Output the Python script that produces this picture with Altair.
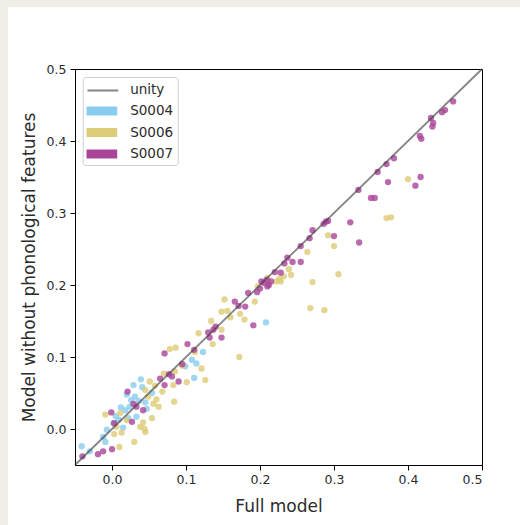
import altair as alt
import pandas as pd

# ---- data ----
s4_full = [-0.041, -0.030, -0.009, -0.012, -0.007, 0.015, 0.018, 0.033, 0.022, 0.045,
           0.031, 0.029, 0.039, 0.024, 0.036, 0.054, 0.111, 0.114, 0.123, 0.208,
           0.002, 0.009, 0.108, 0.099, 0.026, 0.012, 0.041, 0.020, 0.005, 0.047]
s4_nophon = [-0.024, -0.031, -0.018, -0.011, -0.001, 0.002, 0.026, 0.017, 0.015, 0.037,
             0.045, 0.061, 0.069, 0.031, 0.039, 0.050, 0.071, 0.091, 0.107, 0.148,
             0.008, 0.013, 0.096, 0.087, 0.040, 0.030, 0.058, 0.048, 0.018, 0.028]

s6_full = [0.400, 0.371, 0.377, 0.292, 0.300, 0.264, 0.242, 0.228, 0.271, 0.306,
           0.268, 0.287, 0.232, 0.222, 0.226, 0.197, 0.193, 0.152, 0.148, 0.156,
           0.173, 0.179, 0.172, 0.134, 0.148, 0.136, 0.117, 0.112, 0.078, 0.086,
           0.085, 0.101, 0.121, 0.126, 0.083, 0.084, 0.068, 0.051, 0.056, 0.054,
           0.042, 0.045, 0.044, 0.013, 0.003, 0.011, -0.009, 0.010, 0.030, 0.006,
           0.038, 0.063, 0.049, 0.060, 0.045, 0.239, 0.210, 0.160, 0.095, 0.020,
           0.070, 0.058]
s6_nophon = [0.347, 0.293, 0.294, 0.269, 0.254, 0.246, 0.214, 0.205, 0.204, 0.215,
             0.168, 0.165, 0.212, 0.205, 0.208, 0.198, 0.177, 0.180, 0.163, 0.164,
             0.160, 0.152, 0.100, 0.150, 0.138, 0.118, 0.133, 0.107, 0.111, 0.113,
             0.080, 0.065, 0.084, 0.068, 0.061, 0.038, 0.052, 0.066, 0.035, 0.015,
             0.009, -0.004, 0.000, -0.005, -0.007, 0.022, 0.020, -0.025, -0.018, 0.003,
             0.003, 0.031, 0.045, 0.041, 0.054, 0.222, 0.210, 0.155, 0.088, 0.012,
             0.077, 0.060]

s7_full = [0.461, 0.450, 0.446, 0.431, 0.434, 0.433, 0.416, 0.418, 0.381, 0.371,
           0.359, 0.417, 0.410, 0.373, 0.333, 0.350, 0.355, 0.322, 0.289, 0.292,
           0.286, 0.334, 0.271, 0.267, 0.300, 0.255, 0.237, 0.244, 0.255, 0.233,
           0.228, 0.215, 0.205, 0.210, 0.200, 0.196, 0.202, 0.209, 0.212, 0.184,
           0.191, 0.166, 0.171, 0.180, 0.130, 0.137, 0.148, 0.132, 0.102, 0.111,
           0.095, 0.071, 0.077, 0.065, 0.071, 0.090, 0.081, 0.021, 0.033, 0.029,
           0.042, 0.027, -0.001, 0.003, -0.040, -0.019, -0.012, 0.000, 0.140, 0.220]
s7_nophon = [0.455, 0.443, 0.440, 0.432, 0.425, 0.420, 0.407, 0.403, 0.376, 0.368,
             0.357, 0.350, 0.338, 0.343, 0.332, 0.321, 0.321, 0.287, 0.288, 0.289,
             0.285, 0.259, 0.276, 0.265, 0.268, 0.254, 0.238, 0.232, 0.232, 0.230,
             0.217, 0.205, 0.203, 0.198, 0.195, 0.190, 0.205, 0.207, 0.200, 0.189,
             0.144, 0.177, 0.171, 0.170, 0.134, 0.138, 0.127, 0.127, 0.118, 0.110,
             0.090, 0.105, 0.076, 0.070, 0.061, 0.066, 0.073, 0.052, 0.031, 0.035,
             0.026, 0.010, 0.023, 0.008, -0.038, -0.035, -0.031, -0.028, 0.142, 0.218]

legend_domain = ["unity", "S0004", "S0006", "S0007"]
legend_colors = ["transparent", "#88CCEE", "#DDCC77", "#AA4499"]
ticks = [0.0, 0.1, 0.2, 0.3, 0.4, 0.5]
axis_range = [-0.05, 0.5]
unity_label = ["unity"]

rows = []
for name, xs, ys in [("S0004", s4_full, s4_nophon),
                     ("S0006", s6_full, s6_nophon),
                     ("S0007", s7_full, s7_nophon)]:
    for a, b in zip(xs, ys):
        rows.append({"full": a, "nophon": b, "subject": name})
df = pd.DataFrame(rows)
unity_df = pd.DataFrame({"full": axis_range, "nophon": axis_range,
                         "label": unity_label * 2})

# ---- style ----
W, H = 407, 396
FONT = "DejaVu Sans"
TXT = "#2b2b2b"
CREAM = "#f1eee8"

xscale = alt.Scale(domain=axis_range, nice=False, zero=False)
yscale = alt.Scale(domain=axis_range, nice=False, zero=False)

x_axis = alt.Axis(values=ticks, format=".1f", grid=False, tickSize=5,
                  tickColor="black", domainColor="black", labelFont=FONT,
                  labelFontSize=12.5, labelColor=TXT, labelPadding=3,
                  titleFont=FONT, titleFontSize=17, titleFontWeight="normal",
                  titleColor=TXT, titleX=W / 2, titleY=46,
                  titleBaseline="alphabetic", titleAlign="center")
y_axis = alt.Axis(values=ticks, format=".1f", grid=False, tickSize=5,
                  tickColor="black", domainColor="black", labelFont=FONT,
                  labelFontSize=12.5, labelColor=TXT, labelPadding=4,
                  titleFont=FONT, titleFontSize=17, titleFontWeight="normal",
                  titleColor=TXT, titleX=-41, titleY=H / 2, titleAngle=-90,
                  titleBaseline="alphabetic", titleAlign="center")

LEG_X, LEG_Y, LEG_PAD = 7.7, 8, 4.5
RECT_PATH = "M-1.09,-0.56 H2.75 V0.56 H-1.09 Z"
LINE_PATH = "M-1.09,0 H2.75"

dummy = pd.DataFrame({"a": [0]})
strip_left = alt.Chart(dummy).mark_rect(color=CREAM).encode(
    x=alt.value(-80), x2=alt.value(-67), y=alt.value(-80), y2=alt.value(H + 80))
strip_top = alt.Chart(dummy).mark_rect(color=CREAM).encode(
    x=alt.value(-80), x2=alt.value(W + 60), y=alt.value(-80), y2=alt.value(-62))

points = alt.Chart(df).mark_circle(size=40, opacity=0.8).encode(
    x=alt.X("full:Q", scale=xscale, axis=x_axis, title="Full model"),
    y=alt.Y("nophon:Q", scale=yscale, axis=y_axis,
            title="Model without phonological features"),
    color=alt.Color("subject:N",
                    scale=alt.Scale(domain=legend_domain, range=legend_colors),
                    legend=alt.Legend(orient="none", legendX=LEG_X, legendY=LEG_Y,
                                      padding=LEG_PAD, title=None,
                                      symbolType=RECT_PATH, symbolSize=256,
                                      symbolOpacity=1, symbolStrokeWidth=0,
                                      labelOffset=27, rowPadding=6.5,
                                      labelFont=FONT, labelFontSize=13.5,
                                      labelColor=TXT, strokeColor="#d0d0d0",
                                      fillColor="white", cornerRadius=3,
                                      zindex=1)),
)

unity = alt.Chart(unity_df).mark_line(strokeWidth=1.8, opacity=0.65).encode(
    x=alt.X("full:Q", scale=xscale),
    y=alt.Y("nophon:Q", scale=yscale),
    stroke=alt.Stroke("label:N",
                      scale=alt.Scale(domain=unity_label, range=["#444444"]),
                      legend=alt.Legend(orient="none", legendX=LEG_X, legendY=LEG_Y,
                                        padding=LEG_PAD, title=None,
                                        symbolType=LINE_PATH, symbolSize=256,
                                        symbolStrokeWidth=2, symbolOpacity=0.65,
                                        labelOffset=27, labelExpr="''",
                                        labelFont=FONT, labelFontSize=13.5,
                                        zindex=3)),
)

chart = alt.layer(strip_left, strip_top, points, unity).properties(
    width=W, height=H,
    autosize=alt.AutoSizeParams(type="none"),
    padding={"left": 75, "top": 69, "right": 38, "bottom": 60},
    background="white",
).configure_view(stroke="black", strokeWidth=1, fill="white")

chart.save("out.html", embed_options={"renderer": "svg", "actions": False})
